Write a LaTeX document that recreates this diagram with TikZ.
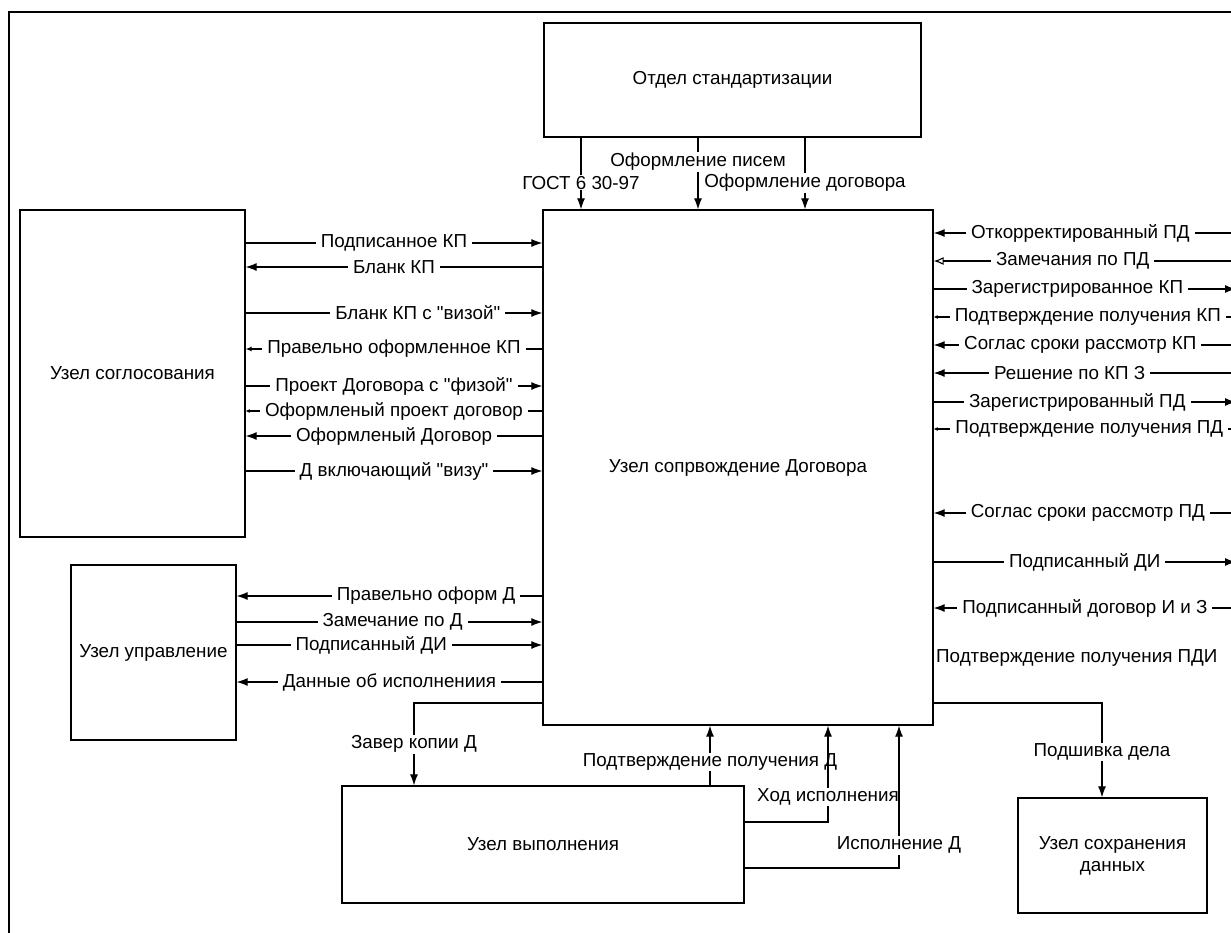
\documentclass[tikz,border=0pt]{standalone}
\usepackage{fontspec}
\newfontfamily\shrift{Liberation Sans}
\usetikzlibrary{arrows.meta}

\tikzset{
  blok/.style={draw, line width=1.3pt, align=center, inner sep=0pt},
  lbl/.style={fill=white, inner xsep=5pt, inner ysep=1pt},
  >={Latex[length=11pt,width=8pt]},
  sm/.style={>={Latex[length=6pt,width=5pt]}},
  tn/.style={>={Latex[length=4pt,width=4pt]}, every node/.append style={inner xsep=2pt}},
  op/.style={>={Latex[open,length=10pt,width=8pt]}},
}

\begin{document}
\begin{tikzpicture}[x=1pt,y=-1pt,line width=1.1pt,font=\shrift\fontsize{18.8}{22}\selectfont]
\useasboundingbox (0,0) rectangle (1231,932);
\draw (9,12) rectangle (1300,1000);
%
\node[blok, minimum width=377pt, minimum height=114pt] (otd) at (732.5,80) {Отдел стандартизации};
\node[blok, minimum width=390pt, minimum height=515pt] (sopr) at (738,467.5) {Узел сопрвождение Договора};
\node[blok, minimum width=225pt, minimum height=327pt] (sogl) at (132.5,373.5) {Узел соглосования};
\node[blok, minimum width=165pt, minimum height=175pt] (upr) at (153.5,652.5) {Узел управление};
\node[blok, minimum width=402pt, minimum height=117pt] (vyp) at (543,844.5) {Узел выполнения};
\node[blok, minimum width=189pt, minimum height=115pt] (sohr) at (1112.5,855.5) {Узел сохранения\\данных};
\coordinate (rim) at (1236,0);
%
\draw[->] (otd.south -| 581,0) -- (sopr.north -| 581,0) node[lbl,pos=.63] {ГОСТ 6 30-97};
\draw[->] (otd.south -| 698,0) -- (sopr.north -| 698,0) node[lbl,pos=.34] {Оформление писем};
\draw[->] (otd.south -| 805,0) -- (sopr.north -| 805,0) node[lbl,pos=.63] {Оформление договора};
%
\draw[->] (sogl.east |- 0,243) -- (sopr.west |- 0,243) node[lbl,midway] {Подписанное КП};
\draw[<-] (sogl.east |- 0,267) -- (sopr.west |- 0,267) node[lbl,midway] {Бланк КП};
\draw[->] (sogl.east |- 0,313) -- (sopr.west |- 0,313) node[lbl,pos=.58] {Бланк КП с "визой"};
\draw[<-,sm] (sogl.east |- 0,349) -- (sopr.west |- 0,349) node[lbl,midway] {Правельно оформленное КП};
\draw[->] (sogl.east |- 0,386) -- (sopr.west |- 0,386) node[lbl,midway] {Проект Договора с "физой"};
\draw[<-,tn] (sogl.east |- 0,411) -- (sopr.west |- 0,411) node[lbl,midway] {Оформленый проект договор};
\draw[<-] (sogl.east |- 0,436) -- (sopr.west |- 0,436) node[lbl,midway] {Оформленый Договор};
\draw[->] (sogl.east |- 0,471) -- (sopr.west |- 0,471) node[lbl,midway] {Д включающий "визу"};
%
\draw[<-] (upr.east |- 0,596) -- (sopr.west |- 0,596) node[lbl,pos=.62] {Правельно оформ Д};
\draw[->] (upr.east |- 0,622) -- (sopr.west |- 0,622) node[lbl,pos=.51] {Замечание по Д};
\draw[->] (upr.east |- 0,645) -- (sopr.west |- 0,645) node[lbl,pos=.44] {Подписанный ДИ};
\draw[<-] (upr.east |- 0,682) -- (sopr.west |- 0,682) node[lbl,pos=.5] {Данные об исполнениия};
%
\draw[<-] (sopr.east |- 0,233) -- (rim |- 0,233) node[lbl,pos=.485] {Откорректированный ПД};
\draw[<-,op] (sopr.east |- 0,261) -- (rim |- 0,261) node[lbl,pos=.46] {Замечания по ПД};
\draw[->] (sopr.east |- 0,289) -- (rim |- 0,289) node[lbl,pos=.475] {Зарегистрированное КП};
\draw[<-,tn] (sopr.east |- 0,317) -- (rim |- 0,317) node[lbl,pos=.51] {Подтверждение получения КП};
\draw[<-] (sopr.east |- 0,345) -- (rim |- 0,345) node[lbl,pos=.485] {Соглас сроки рассмотр КП};
\draw[<-] (sopr.east |- 0,373) -- (rim |- 0,373) node[lbl,pos=.45] {Решение по КП З};
\draw[->] (sopr.east |- 0,402) -- (rim |- 0,402) node[lbl,pos=.475] {Зарегистрированный ПД};
\draw[<-,tn] (sopr.east |- 0,429) -- (rim |- 0,429) node[lbl,pos=.515] {Подтверждение получения ПД};
\draw[<-] (sopr.east |- 0,513) -- (rim |- 0,513) node[lbl,pos=.51] {Соглас сроки рассмотр ПД};
\draw[->] (sopr.east |- 0,562) -- (rim |- 0,562) node[lbl,pos=.5] {Подписанный ДИ};
\draw[<-] (sopr.east |- 0,608) -- (rim |- 0,608) node[lbl,pos=.5] {Подписанный договор И и З};
\node[lbl, anchor=west, inner xsep=2pt] (pdi) at (sopr.east |- 0,658) {Подтверждение получения ПДИ};
%
\draw[->] (sopr.west |- 0,703) -| (vyp.north -| 414,0) node[lbl,pos=.75] {Завер копии Д};
\draw[->] (vyp.north -| 710,0) -- (sopr.south -| 710,0) node[lbl,pos=.39] {Подтверждение получения Д};
\draw[->] (vyp.east |- 0,822) -| (sopr.south -| 828,0) node[lbl,pos=.63] {Ход исполнения};
\draw[->] (vyp.east |- 0,868) -| (sopr.south -| 899,0) node[lbl,pos=.58] {Исполнение Д};
\draw[->] (sopr.east |- 0,703) -| (sohr.north -| 1102,0) node[lbl,pos=.76] {Подшивка дела};
\end{tikzpicture}
\end{document}
